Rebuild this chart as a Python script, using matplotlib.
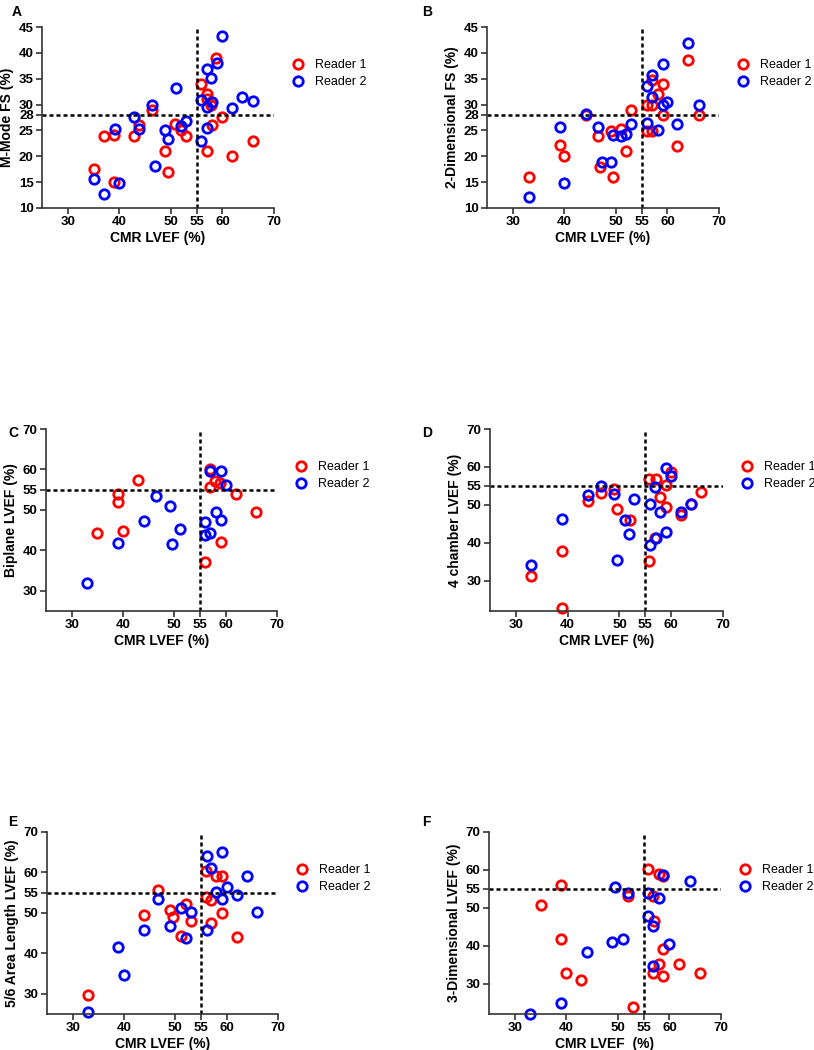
import matplotlib
matplotlib.use("Agg")
import matplotlib.pyplot as plt

plt.rcParams["font.family"] = ["Liberation Sans", "DejaVu Sans"]

# ---------------------------------------------------------------
# Data (CMR LVEF vs. echo measure, two readers)
# ---------------------------------------------------------------
# A: M-Mode FS
a_r1_x = [58.8, 55.9, 57.0, 57.0, 57.8, 46.4, 60.0, 43.9, 50.8, 58.0, 51.9,
          37.0, 38.9, 42.8, 53.0, 65.9, 48.9, 57.0, 61.9, 35.0, 49.4, 38.9]
a_r1_y = [39.1, 34.0, 32.1, 31.1, 30.0, 29.0, 27.6, 26.0, 26.3, 26.0, 25.0,
          23.9, 24.1, 23.9, 23.9, 22.9, 21.0, 21.0, 20.1, 17.5, 17.0, 15.0]
a_r2_x = [60.0, 57.1, 57.8, 58.9, 50.9, 55.9, 58.0, 57.0, 46.4, 63.8, 65.9,
          61.9, 42.9, 53.0, 52.0, 39.1, 43.9, 48.9, 49.4, 55.9, 57.0, 47.0,
          35.0, 39.9, 37.0]
a_r2_y = [43.3, 36.8, 35.1, 38.1, 33.3, 30.8, 30.5, 29.5, 30.0, 31.4, 30.6,
          29.3, 27.5, 26.9, 25.8, 25.2, 25.2, 25.0, 23.4, 22.9, 25.5, 18.1,
          15.7, 14.9, 12.8]

# B: 2-Dimensional FS
b_r1_x = [64.0, 59.1, 58.1, 57.0, 56.0, 57.0, 59.1, 66.1, 53.0, 44.2, 56.0,
          57.0, 49.1, 51.0, 46.6, 39.2, 52.0, 61.8, 40.0, 46.9, 49.5, 33.1]
b_r1_y = [38.7, 33.9, 32.0, 34.7, 30.0, 29.9, 27.9, 27.9, 29.0, 27.9, 24.9,
          24.9, 24.9, 25.2, 23.9, 22.1, 21.0, 21.9, 20.0, 17.9, 16.0, 16.0]
b_r2_x = [64.0, 59.1, 57.0, 56.0, 57.0, 59.1, 60.0, 66.1, 44.2, 56.0, 58.1,
          61.8, 53.0, 46.6, 39.2, 49.5, 51.0, 52.0, 47.3, 49.1, 40.0, 33.1]
b_r2_y = [41.9, 37.8, 35.8, 33.5, 31.4, 29.9, 30.5, 29.9, 28.1, 26.4, 25.0,
          26.3, 26.2, 25.6, 25.6, 24.2, 23.9, 24.4, 18.9, 18.9, 14.9, 12.1]

# C: Biplane LVEF
c_r1_x = [57.0, 57.9, 58.8, 57.0, 43.0, 39.0, 39.0, 62.0, 65.9, 35.0, 40.0,
          59.0, 56.0]
c_r1_y = [60.2, 57.2, 56.7, 55.7, 57.3, 53.9, 51.9, 54.0, 49.4, 44.2, 44.7,
          42.1, 37.0]
c_r2_x = [57.0, 59.0, 60.1, 46.5, 49.1, 44.1, 51.1, 58.1, 59.0, 56.0, 57.0,
          56.0, 39.0, 49.5, 33.0]
c_r2_y = [59.6, 59.6, 56.1, 53.4, 51.0, 47.3, 45.3, 49.4, 47.6, 47.0, 44.4,
          43.8, 41.8, 41.6, 31.9]

# D: 4 chamber LVEF
d_r1_x = [60.0, 55.7, 57.0, 59.0, 57.9, 59.0, 49.0, 46.5, 44.0, 49.5, 52.1,
          65.8, 63.8, 61.9, 56.9, 55.8, 39.0, 33.0, 39.0]
d_r1_y = [58.7, 56.9, 56.8, 55.2, 52.1, 49.4, 54.3, 53.0, 50.9, 49.0, 45.9,
          53.4, 50.1, 47.2, 41.3, 35.1, 37.9, 31.1, 22.9]
d_r2_x = [59.0, 60.0, 56.9, 55.9, 57.9, 46.5, 44.0, 49.0, 52.9, 51.0, 51.9,
          59.0, 57.0, 55.9, 63.8, 61.9, 39.0, 49.5, 33.0]
d_r2_y = [59.8, 57.6, 54.7, 50.3, 48.0, 55.0, 52.7, 52.8, 51.5, 45.9, 42.2,
          42.8, 41.3, 39.5, 50.3, 48.1, 46.2, 35.5, 34.2]

# E: 5/6 Area Length LVEF
e_r1_x = [55.9, 58.0, 59.1, 55.9, 56.9, 46.7, 52.0, 48.9, 49.6, 43.9, 53.0,
          57.0, 59.0, 51.2, 62.0, 32.9]
e_r1_y = [60.4, 59.0, 59.0, 54.0, 53.2, 55.7, 52.1, 50.7, 49.0, 49.5, 48.0,
          47.4, 50.0, 44.3, 44.1, 29.6]
e_r2_x = [59.0, 56.1, 57.0, 64.0, 60.1, 58.0, 62.0, 59.1, 46.7, 51.1, 53.0,
          66.0, 48.9, 56.1, 43.9, 52.0, 38.9, 40.0, 32.9]
e_r2_y = [65.0, 64.0, 61.1, 59.2, 56.5, 55.1, 54.4, 53.4, 53.4, 51.1, 50.3,
          50.1, 46.7, 45.7, 45.7, 43.8, 41.6, 34.6, 25.4]

# F: 3-Dimensional LVEF
f_r1_x = [55.8, 57.9, 58.8, 38.9, 51.9, 56.9, 35.0, 57.1, 38.9, 58.8, 61.9,
          57.9, 39.9, 42.9, 56.9, 58.8, 66.0, 53.0]
f_r1_y = [60.3, 58.8, 58.3, 56.0, 53.2, 53.0, 50.8, 46.4, 41.9, 39.1, 35.3,
          35.1, 32.9, 30.9, 32.9, 31.9, 32.9, 23.9]
f_r2_x = [58.8, 64.0, 49.4, 51.9, 55.8, 57.9, 55.9, 56.9, 60.0, 50.9, 48.8,
          44.0, 56.9, 38.9, 32.9]
f_r2_y = [58.7, 57.2, 55.6, 53.8, 53.8, 52.5, 47.9, 45.1, 40.4, 41.7, 41.0,
          38.4, 34.7, 24.8, 21.9]

panel_letters = ["A", "B", "C", "D", "E", "F"]
y_labels = ["M-Mode FS (%)", "2-Dimensional FS (%)", "Biplane LVEF (%)",
            "4 chamber LVEF (%)", "5/6 Area Length LVEF (%)",
            "3-Dimensional LVEF (%)"]
x_labels = ["CMR LVEF (%)"] * 5 + ["CMR LVEF  (%)"]
x_ticks = [30, 40, 50, 55, 60, 70]
fs_ticks = [10, 15, 20, 25, 28, 30, 35, 40, 45]
ef_ticks = [30, 40, 50, 55, 60, 70]
y_limits = [(10, 45), (10, 45), (25, 70), (22, 70), (25, 70), (22, 70)]
y_cut = [28, 28, 55, 55, 55, 55]
series = [
    (a_r1_x, a_r1_y, a_r2_x, a_r2_y),
    (b_r1_x, b_r1_y, b_r2_x, b_r2_y),
    (c_r1_x, c_r1_y, c_r2_x, c_r2_y),
    (d_r1_x, d_r1_y, d_r2_x, d_r2_y),
    (e_r1_x, e_r1_y, e_r2_x, e_r2_y),
    (f_r1_x, f_r1_y, f_r2_x, f_r2_y),
]

# axes boxes in pixels: left, top, right, bottom
W, H = 814, 1050
boxes = [(42, 27, 274, 208), (487, 27, 719, 208),
         (46, 429, 277, 611), (490, 429, 723, 611),
         (47, 832, 278, 1014), (489, 832, 721, 1014)]
letter_pos = [(12, 12), (422, 12), (8, 433), (422, 433), (8, 822), (422, 822)]
dash = (0, (1.6, 1.2))

fig = plt.figure(figsize=(W / 100, H / 100), dpi=100)

for i in range(6):
    l, t, r, b = boxes[i]
    w_px, h_px = r - l, b - t
    ax = fig.add_axes([l / W, 1 - b / H, w_px / W, h_px / H])
    x1, y1, x2, y2 = series[i]
    ax.plot(x1, y1, "o", ms=6.8, mfc="none", mec="#ff0000", mew=2,
            clip_on=False, label="Reader 1")
    ax.plot(x2, y2, "o", ms=6.8, mfc="none", mec="#0000ff", mew=2,
            clip_on=False, label="Reader 2")
    ax.axvline(55, color="black", lw=1.8, ls=dash)
    ax.axhline(y_cut[i], color="black", lw=1.8, ls=dash)

    ax.set_xlim(25, 70)
    ax.set_ylim(*y_limits[i])
    ax.set_xticks(x_ticks)
    ax.set_yticks(fs_ticks if i < 2 else ef_ticks)
    for s in ["top", "right"]:
        ax.spines[s].set_visible(False)
    for s in ["left", "bottom"]:
        ax.spines[s].set_linewidth(1.2)
        ax.spines[s].set_color("#333333")
    ax.tick_params(direction="out", length=4, width=1.2, labelsize=9.5,
                   pad=2, color="#333333")
    for lab in ax.get_xticklabels() + ax.get_yticklabels():
        lab.set_fontweight("bold")
    ax.set_xlabel(x_labels[i], fontsize=10, fontweight="bold", va="center")
    ax.xaxis.set_label_coords(0.5, -30 / h_px)
    ax.set_ylabel(y_labels[i], fontsize=10, fontweight="bold", va="center")
    ax.yaxis.set_label_coords(-35 / w_px, 0.5)

    ax.legend(loc="center left",
              bbox_to_anchor=(1 + 18 / w_px, 1 - 46.5 / h_px),
              frameon=False, fontsize=9, handlelength=1.0,
              handletextpad=0.84, labelspacing=0.4, borderpad=0,
              borderaxespad=0)

    fig.text(letter_pos[i][0] / W, 1 - letter_pos[i][1] / H, panel_letters[i],
             fontsize=10, fontweight="bold", va="center")

fig.savefig("out.png", dpi=100)
